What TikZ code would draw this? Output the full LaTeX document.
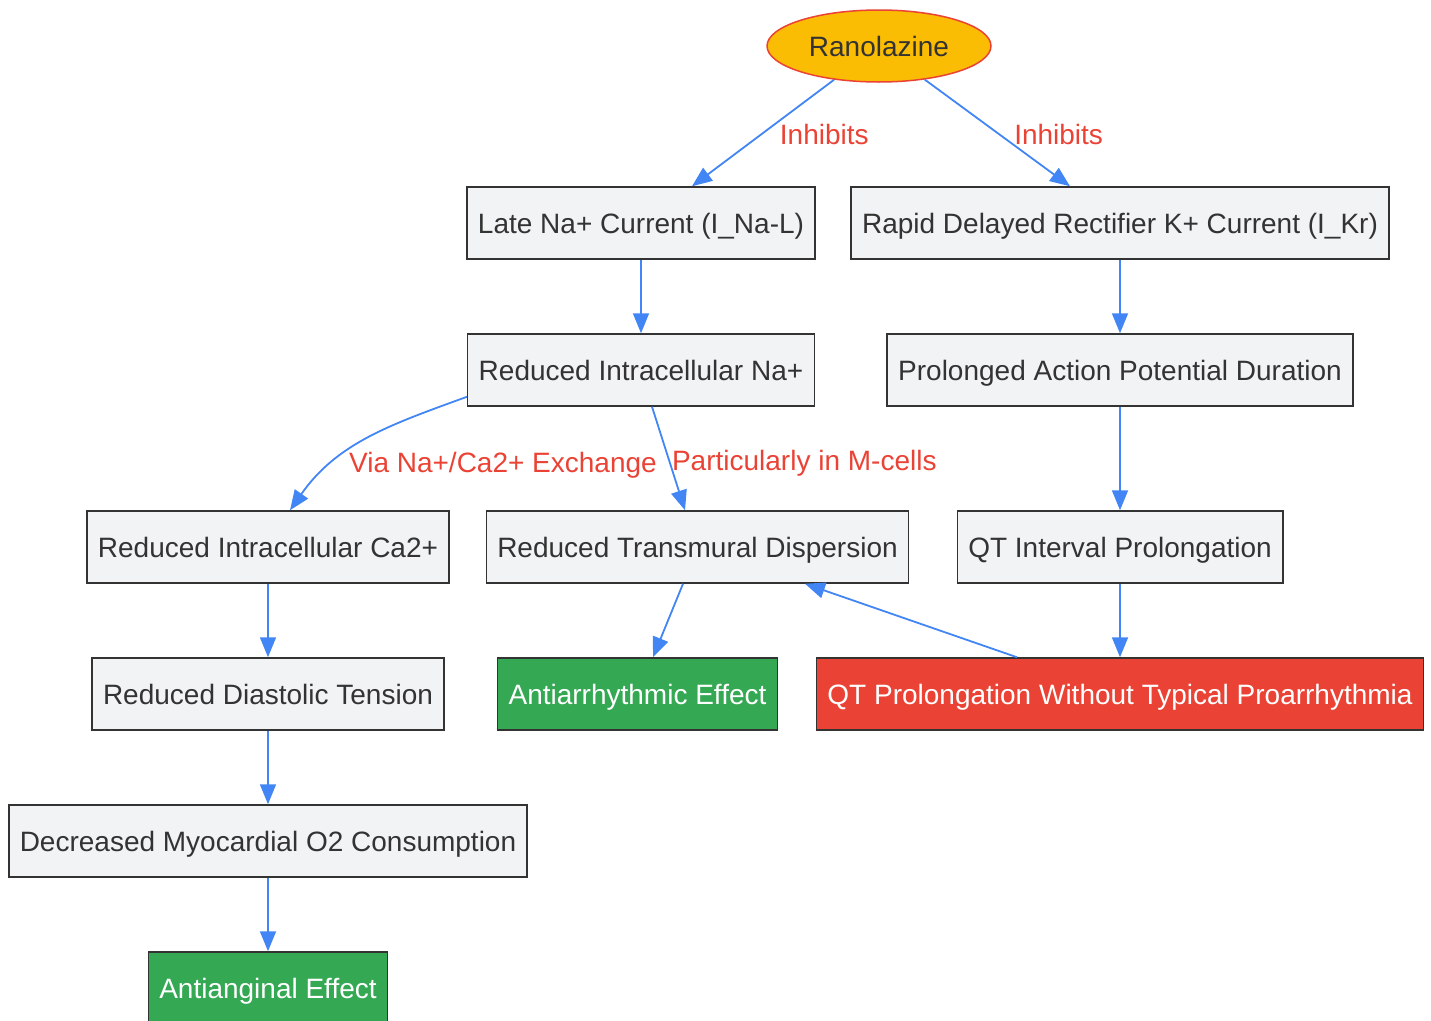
\documentclass[tikz,border=0pt]{standalone}
\usepackage{fontspec}
\setmainfont{Liberation Sans}
\usetikzlibrary{shapes.geometric,arrows.meta}
\definecolor{boxfill}{HTML}{F1F3F4}
\definecolor{boxline}{HTML}{333333}
\definecolor{txt}{HTML}{333333}
\definecolor{edgeblue}{HTML}{4285F4}
\definecolor{gred}{HTML}{EA4335}
\definecolor{ggreen}{HTML}{34A853}
\definecolor{gyellow}{HTML}{FBBC04}

\begin{document}
\begin{tikzpicture}[x=1pt,y=1pt,node distance=147pt,
  font=\fontsize{28}{33}\selectfont,
  box/.style={draw=boxline, fill=boxfill, line width=1.5pt, text=txt,
    minimum height=72pt, inner xsep=11pt, text height=20pt, text depth=0pt},
  good/.style={box, fill=ggreen, text=white},
  bad/.style={box, fill=gred, text=white},
  drug/.style={ellipse, draw=gred, fill=gyellow, line width=1.5pt, text=txt,
    minimum width=224pt, minimum height=72pt, inner sep=0pt,
    text height=20pt, text depth=0pt},
  edge/.style={draw=edgeblue, line width=1.8pt, -{Triangle[length=20pt,width=16pt]}},
  lbl/.style={text=gred, inner sep=2pt, text height=20pt, text depth=0pt}]
\useasboundingbox (0,0) rectangle (1431,-1020);

\node[drug] (ran) at (879,-46) {Ranolazine};
\node[box] (late) at (641,-223) {Late Na+ Current (I\_Na-L)};
\node[box] (ikr) at (1120,-223) {Rapid Delayed Rectifier K+ Current (I\_Kr)};
\node[box, below of=late] (nain) {Reduced Intracellular Na+};
\node[box, below of=ikr] (apd) {Prolonged Action Potential Duration};
\node[box] (cain) at (268,-547) {Reduced Intracellular Ca2+};
\node[box] (disp) at (697.5,-547) {Reduced Transmural Dispersion};
\node[box, below of=apd, yshift=-30pt] (qti) {QT Interval Prolongation};
\node[box, below of=cain] (diast) {Reduced Diastolic Tension};
\node[good] (arrh) at (637.5,-694) {Antiarrhythmic Effect};
\node[bad, below of=qti] (qtp) {QT Prolongation Without Typical Proarrhythmia};
\node[box, below of=diast] (myo) {Decreased Myocardial O2 Consumption};
\node[good, below of=myo] (ang) {Antianginal Effect};

\draw[edge] (ran) -- ([xshift=51pt]late.north) node[lbl, pos=0.5, right=14pt, yshift=-1.5pt] {Inhibits};
\draw[edge] (ran) -- ([xshift=-50pt]ikr.north) node[lbl, pos=0.5, right=14pt, yshift=-1.5pt] {Inhibits};
\draw[edge] (late) -- (nain);
\draw[edge] (ikr) -- (apd);
\draw[edge] ([yshift=10pt]nain.south west) to[out=200, in=55]
  node[lbl, pos=0.5, anchor=west, xshift=-21pt, yshift=-24pt] {Via Na+/Ca2+ Exchange} ([xshift=22pt]cain.north);
\draw[edge] ([xshift=11pt]nain.south) -- ([xshift=-12.5pt]disp.north)
  node[lbl, pos=0.52, anchor=west] {Particularly in M-cells};
\draw[edge] (apd) -- (qti);
\draw[edge] (cain) -- (diast);
\draw[edge] ([xshift=-14.5pt]disp.south) -- ([xshift=15.5pt]arrh.north);
\draw[edge] (qti) -- (qtp);
\draw[edge] ([xshift=-103pt]qtp.north) -- ([xshift=107.5pt]disp.south);
\draw[edge] (diast) -- (myo);
\draw[edge] (myo) -- (ang);
\end{tikzpicture}
\end{document}
